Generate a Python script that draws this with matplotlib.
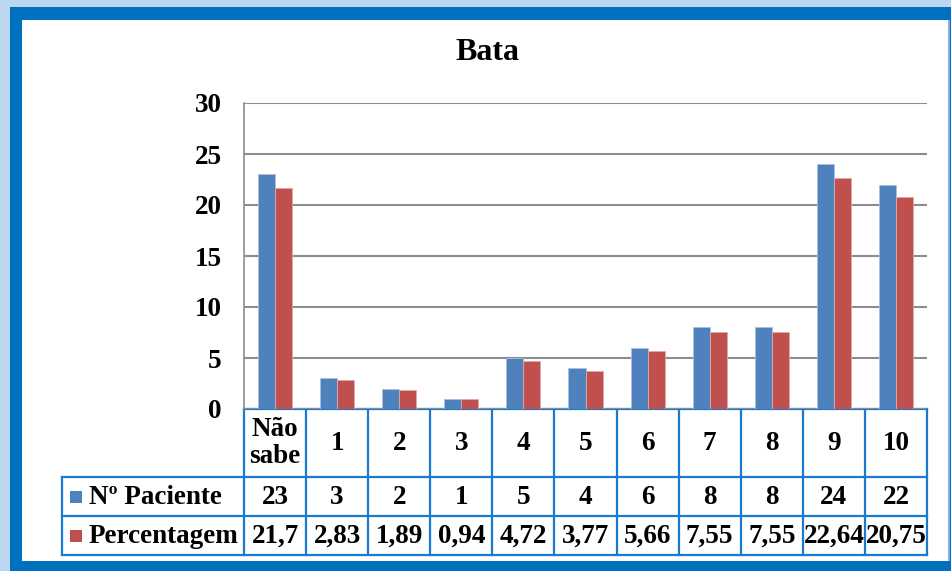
import matplotlib.pyplot as plt
from matplotlib.patches import Rectangle

categories = ["Não\nsabe", "1", "2", "3", "4", "5", "6", "7", "8", "9", "10"]
pacientes = [23, 3, 2, 1, 5, 4, 6, 8, 8, 24, 22]
percentagem = [21.7, 2.83, 1.89, 0.94, 4.72, 3.77, 5.66, 7.55, 7.55, 22.64, 20.75]
pacientes_txt = ["23", "3", "2", "1", "5", "4", "6", "8", "8", "24", "22"]
percentagem_txt = ["21,7", "2,83", "1,89", "0,94", "4,72", "3,77", "5,66",
                   "7,55", "7,55", "22,64", "20,75"]
series_names = ["Nº Paciente", "Percentagem"]
y_ticks = [0, 5, 10, 15, 20, 25, 30]

BLUE = "#4F81BD"
RED = "#C0504D"
FRAME = "#0070C0"
GRID = "#8C8C8C"
FS = 19.5

W, H = 951, 571
plt.rcParams['font.family'] = ['Liberation Serif', 'DejaVu Serif']

fig = plt.figure(figsize=(W / 100, H / 100), dpi=100)

# overlay in pixel coordinates for frame and data table
over = fig.add_axes([0, 0, 1, 1])
over.set_xlim(0, W)
over.set_ylim(H, 0)
over.axis('off')

# outer frame
over.add_patch(Rectangle((0, 0), W, H, facecolor="#BDD7F0", edgecolor='none'))
over.add_patch(Rectangle((10, 7), W - 10, H - 7, facecolor=FRAME, edgecolor='none'))
over.add_patch(Rectangle((22, 20), 926, 541, facecolor='white', edgecolor='none'))
over.add_patch(Rectangle((948, 20), 2, 541, facecolor="#7FB2E0", edgecolor='none'))

# chart axes
x0, x1, y_top, y_zero = 244, 927, 103, 409
ax = fig.add_axes([x0 / W, 1 - y_zero / H, (x1 - x0) / W, (y_zero - y_top) / H])
ax.set_facecolor('none')
n = len(categories)
idx = list(range(n))
bw = 0.275
ax.bar([i - bw / 2 for i in idx], pacientes, width=bw, color=BLUE,
       edgecolor="#A9C1E0", linewidth=0.6, zorder=3)
ax.bar([i + bw / 2 for i in idx], percentagem, width=bw, color=RED,
       edgecolor="#E0A9A8", linewidth=0.6, zorder=3)
ax.set_xlim(-0.5, n - 0.5)
ax.set_ylim(0, 30)
ax.set_yticks(y_ticks)
ax.set_yticklabels([str(t) for t in y_ticks], fontsize=FS, fontweight='bold')
ax.tick_params(axis='y', length=0, pad=16)
ax.set_xticks([])
ax.yaxis.grid(True, color=GRID, linewidth=1.5, zorder=0)
for s in ['top', 'right', 'bottom']:
    ax.spines[s].set_visible(False)
ax.spines['left'].set_color(GRID)
ax.spines['left'].set_linewidth(1.2)

fig.text(487 / W, 1 - 52 / H, "Bata", ha='center', va='center',
         fontsize=23, fontweight='bold')

# data table
col_w = (x1 - x0) / n
r0, r1, r2, r3 = y_zero, 477, 516, 555
leg_x = 62
lc = "#1A7AD0"
lw = 1.6
over.plot([x0, x1], [r0, r0], color=lc, lw=lw)
for y in (r1, r2, r3):
    over.plot([leg_x, x1], [y, y], color=lc, lw=lw)
for i in range(n + 1):
    xx = x0 + i * col_w
    over.plot([xx, xx], [r0, r3], color=lc, lw=lw)
over.plot([leg_x, leg_x], [r1, r3], color=lc, lw=lw)

for i in range(n):
    cx = x0 + (i + 0.5) * col_w
    over.text(cx, (r0 + r1) / 2, categories[i], ha='center', va='center',
              fontsize=FS, fontweight='bold', linespacing=1.15)
    over.text(cx, (r1 + r2) / 2 + 1, pacientes_txt[i], ha='center', va='center',
              fontsize=FS, fontweight='bold')
    over.text(cx, (r2 + r3) / 2 + 1, percentagem_txt[i], ha='center', va='center',
              fontsize=FS, fontweight='bold')

for (ya, yb), name, c in zip([(r1, r2), (r2, r3)], series_names, [BLUE, RED]):
    ym = (ya + yb) / 2
    over.add_patch(Rectangle((70, ym - 6), 12, 12, facecolor=c, edgecolor='none'))
    over.text(89, ym + 1, name, ha='left', va='center', fontsize=FS, fontweight='bold')

fig.savefig("out.png", dpi=100)
